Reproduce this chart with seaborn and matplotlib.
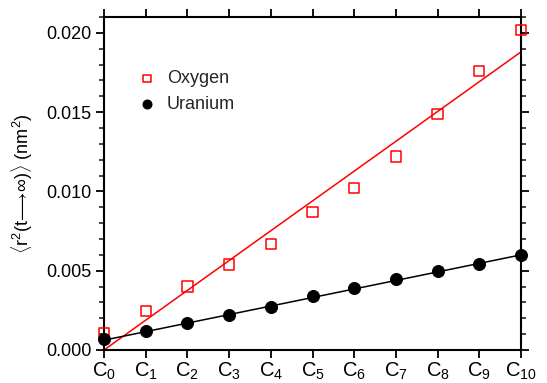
import numpy as np
import pandas as pd
import matplotlib
matplotlib.use("Agg")
import matplotlib.pyplot as plt
import seaborn as sns
from matplotlib.ticker import MultipleLocator

categories = ["C$_{%d}$" % i for i in range(11)]
oxygen = [0.00107, 0.00248, 0.0040, 0.0054, 0.0067, 0.0087, 0.0102, 0.0122, 0.0149, 0.0176, 0.0202]
uranium = [0.0007, 0.0012, 0.0017, 0.0022, 0.0027, 0.0034, 0.0039, 0.0045, 0.0050, 0.0054, 0.0060]
oxygen_fit = [0.0, 0.0188]
uranium_fit = [0.00062, 0.0060]

sns.set_theme(style="ticks")
plt.rcParams['font.family'] = ['Liberation Sans', 'DejaVu Sans']
plt.rcParams['mathtext.fontset'] = 'custom'
plt.rcParams['mathtext.rm'] = 'Liberation Sans'
plt.rcParams['mathtext.it'] = 'Liberation Sans'
plt.rcParams['mathtext.bf'] = 'Liberation Sans:bold'

x = np.arange(len(categories))
df = pd.DataFrame({"x": np.concatenate([x, x]),
                   "y": oxygen + uranium,
                   "species": ["Oxygen"] * len(x) + ["Uranium"] * len(x)})
fit = pd.DataFrame({"x": [0, 10, 0, 10],
                    "y": oxygen_fit + uranium_fit,
                    "species": ["Oxygen", "Oxygen", "Uranium", "Uranium"]})

fig = plt.figure(figsize=(5.47, 3.83), dpi=100)
ax = fig.add_axes([104/547, 33/383, 417/547, 333/383])

sns.lineplot(data=fit, x="x", y="y", hue="species", palette={"Oxygen": "#ff0000", "Uranium": "black"},
             lw=1.1, legend=False, ax=ax)
sns.scatterplot(data=df[df.species == "Oxygen"], x="x", y="y", marker="s", s=55,
                facecolor="none", edgecolor="#ff0000", linewidth=1.1, ax=ax, clip_on=False,
                label="Oxygen", zorder=5)
sns.scatterplot(data=df[df.species == "Uranium"], x="x", y="y", marker="o", s=75,
                color="black", edgecolor="black", ax=ax, clip_on=False, label="Uranium", zorder=5)

ax.set_xlim(0, 10)
ax.set_ylim(0, 0.021)
ax.set_xticks(x)
ax.set_xticklabels(categories)
ax.yaxis.set_major_locator(MultipleLocator(0.005))
ax.yaxis.set_minor_locator(MultipleLocator(0.001))
ax.yaxis.set_major_formatter(matplotlib.ticker.FormatStrFormatter("%.3f"))
ax.tick_params(axis="both", which="major", direction="out", length=6, width=1.3,
               labelsize=13, top=True, right=True, color="black", labelcolor="black", pad=3)
ax.tick_params(axis="x", which="major", labelsize=14.5, pad=2)
ax.tick_params(axis="y", which="minor", direction="out", length=3.5, width=1.2, right=True, left=True)
for s in ax.spines.values():
    s.set_visible(True)
    s.set_linewidth(1.5)
    s.set_color("black")
ax.set_xlabel("")
ax.set_ylabel(r"$\langle$r$^2$(t$\!\longrightarrow\!\infty$)$\rangle$ (nm$^2$)", fontsize=13,
              color="black", labelpad=8)

leg = ax.legend(loc="upper left", bbox_to_anchor=(0.06, 0.862), frameon=False, fontsize=13,
                handletextpad=0.5, handlelength=1.2, labelspacing=0.5, borderaxespad=0,
                markerscale=0.75)
fig.savefig("out.png", dpi=100)
